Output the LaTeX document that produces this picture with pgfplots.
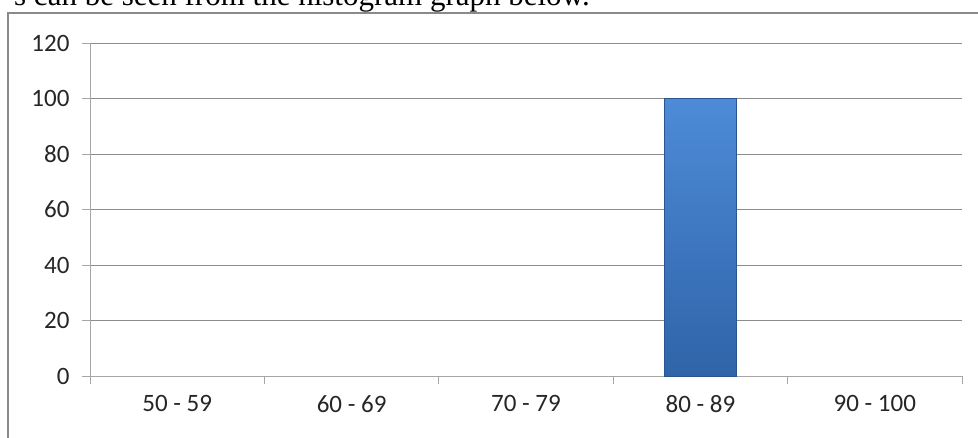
\documentclass[border=0pt]{standalone}
\usepackage{fontspec}
\usepackage{pgfplots}
\pgfplotsset{compat=1.18}
\setmainfont{Liberation Serif}
\newfontfamily\calib{Carlito}
\newfontfamily\tnr{Liberation Serif}
\definecolor{gridc}{HTML}{8C8C8C}
\definecolor{axc}{HTML}{A6A6A6}
\definecolor{bordc}{HTML}{8A8A8A}
\definecolor{bartop}{HTML}{4D8BD8}
\definecolor{barbot}{HTML}{2F64A8}
\definecolor{baredge}{HTML}{2A5591}
\begin{document}
\begin{tikzpicture}[x=1pt,y=1pt]
\useasboundingbox (0,0) rectangle (978,437);
\node[anchor=base east,inner sep=0pt,font=\tnr\fontsize{31}{36}\selectfont] at (590,431) {s can be seen from the histogram graph below.};
\draw[bordc,line width=2pt] (8,-10) -- (8,424) -- (990,424);
\begin{axis}[
  at={(90pt,61pt)}, anchor=south west,
  scale only axis, width=872pt, height=333pt,
  xmin=-0.5, xmax=4.5, ymin=0, ymax=120,
  axis x line=bottom, axis y line=left,
  axis line style={-, draw=axc, line width=0.8pt},
  ytick={0,20,...,120},
  xtick={-0.5,0.5,1.5,2.5,3.5,4.5},
  xticklabels={50 - 59,60 - 69,70 - 79,80 - 89,90 - 100},
  x tick label as interval,
  tick align=outside, major tick length=8pt,
  tick style={draw=axc, line width=0.8pt},
  ymajorgrids, grid style={draw=gridc, line width=0.8pt},
  /pgf/number format/assume math mode=true,
  tick label style={font=\calib\fontsize{25}{30}\selectfont, text=black!85},
  yticklabel style={xshift=-9pt},
  xticklabel style={yshift=-8pt},
  clip=false,
]
\addplot[ybar, bar width=72pt, bar shift=0pt, draw=baredge, line width=0.8pt,
  top color=bartop, bottom color=barbot,
  y filter/.expression={y==0 ? nan : y}, unbounded coords=discard]
  coordinates {(0,0) (1,0) (2,0) (3,100) (4,0)};
\end{axis}
\end{tikzpicture}
\end{document}
